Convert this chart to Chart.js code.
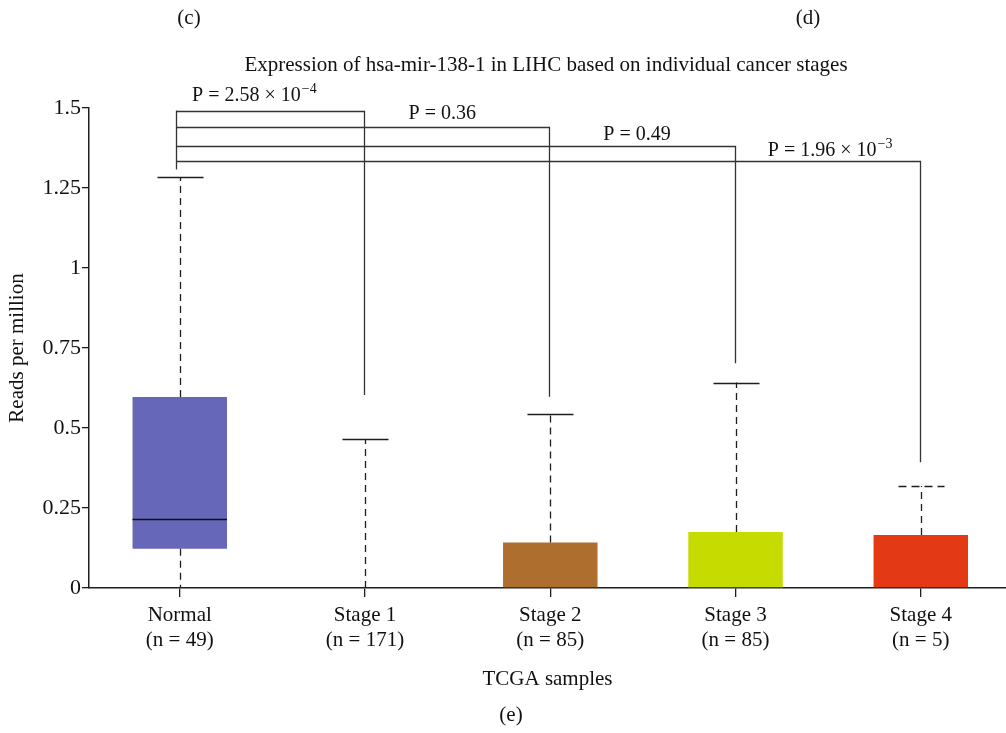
<!DOCTYPE html>
<html>
<head>
<meta charset="utf-8">
<title>Expression of hsa-mir-138-1 in LIHC</title>
<script src="https://cdn.jsdelivr.net/npm/chart.js@4.4.1/dist/chart.umd.min.js"></script>
<style>
  html, body { margin: 0; padding: 0; background: #ffffff; }
  #wrap { width: 1006px; height: 733px; }
</style>
</head>
<body>
<div id="wrap"><canvas id="chart" width="1006" height="733"></canvas></div>
<script>
// ---- data -------------------------------------------------------------
const categories   = ['Normal', 'Stage 1', 'Stage 2', 'Stage 3', 'Stage 4'];
const sampleCounts = ['(n = 49)', '(n = 171)', '(n = 85)', '(n = 85)', '(n = 5)'];

// box-and-whisker summary (reads per million)
const q1          = [0.123, 0, 0, 0, 0];
const median      = [0.215, 0, 0, 0, 0];
const q3          = [0.597, 0, 0.142, 0.175, 0.166];
const whiskerLow  = [0, 0, 0, 0, 0];
const whiskerHigh = [1.284, 0.466, 0.543, 0.642, 0.319];

// y axis ticks
const yTicks      = [0, 0.25, 0.5, 0.75, 1, 1.25, 1.5];
const yTickLabels = ['0', '0.25', '0.5', '0.75', '1', '1.25', '1.5'];

// significance brackets: Normal vs each stage
const pMantissa     = ['P = 2.58 × 10', 'P = 0.36', 'P = 0.49', 'P = 1.96 × 10'];
const pExponent     = ['−4', '', '', '−3'];
const bracketLevel  = [1.492, 1.440, 1.382, 1.333];
const bracketBottom = [0.603, 0.598, 0.702, 0.393];
const bracketStemLow = 1.308;

// ---- styles -----------------------------------------------------------
const FONT = "'Liberation Serif', 'Times New Roman', serif";
const TEXT_SIZE = 21;
const boxColors  = ['#6767b9', '#6767b9', '#ae6e2e', '#c6db00', '#e33914'];
const capDashed  = [false, false, false, false, true];
const INK = '#1e1e1e';
const CAP_HALF = 23;          // px, half width of whisker caps
const STEM_SHIFT = -0.022;    // x-units, bracket stem sits just left of Normal
const pLabelX   = [1.40, 2.417, 3.468, 4.508];
const pLabelGap = [10.5, 8.5, 6.5, 5.5];   // px, baseline above bracket line

const extras = {
  id: 'boxExtras',
  afterDatasetsDraw(chart) {
    const { ctx, scales: { x, y } } = chart;
    ctx.save();
    ctx.strokeStyle = INK;

    // whiskers + caps
    categories.forEach((c, i) => {
      const px = Math.round(x.getPixelForValue(i + 1)) + 0.5;
      ctx.lineWidth = 1.3;
      ctx.setLineDash([7, 5]);
      ctx.beginPath();
      ctx.moveTo(px, y.getPixelForValue(q3[i]));
      ctx.lineTo(px, y.getPixelForValue(whiskerHigh[i]));
      ctx.stroke();
      if (q1[i] > whiskerLow[i]) {
        ctx.beginPath();
        ctx.moveTo(px, y.getPixelForValue(q1[i]));
        ctx.lineTo(px, y.getPixelForValue(whiskerLow[i]));
        ctx.stroke();
      }
      ctx.setLineDash(capDashed[i] ? [8, 5] : []);
      ctx.lineWidth = 1.6;
      const cy = Math.round(y.getPixelForValue(whiskerHigh[i])) + 0.5;
      ctx.beginPath();
      ctx.moveTo(px - CAP_HALF, cy);
      ctx.lineTo(px + CAP_HALF, cy);
      ctx.stroke();
    });
    ctx.setLineDash([]);

    // medians
    const meta = chart.getDatasetMeta(0);
    categories.forEach((c, i) => {
      if (median[i] <= 0) return;
      const bar = meta.data[i];
      const my = Math.round(y.getPixelForValue(median[i])) + 0.5;
      ctx.lineWidth = 1.4;
      ctx.strokeStyle = '#111';
      ctx.beginPath();
      ctx.moveTo(bar.x - bar.width / 2, my);
      ctx.lineTo(bar.x + bar.width / 2, my);
      ctx.stroke();
    });

    // brackets
    ctx.strokeStyle = '#333';
    ctx.lineWidth = 1.3;
    const sx = Math.round(x.getPixelForValue(1 + STEM_SHIFT)) + 0.5;
    ctx.beginPath();
    ctx.moveTo(sx, y.getPixelForValue(bracketLevel[0]));
    ctx.lineTo(sx, y.getPixelForValue(bracketStemLow));
    ctx.stroke();
    bracketLevel.forEach((lv, k) => {
      const by = Math.round(y.getPixelForValue(lv)) + 0.5;
      const ex = Math.round(x.getPixelForValue(k + 2)) - 0.5;
      ctx.beginPath();
      ctx.moveTo(sx, by);
      ctx.lineTo(ex, by);
      ctx.lineTo(ex, y.getPixelForValue(bracketBottom[k]));
      ctx.stroke();

      // P value label
      const main = pMantissa[k];
      const sup = pExponent[k];
      ctx.font = '20px ' + FONT;
      const wMain = ctx.measureText(main).width;
      ctx.font = '14px ' + FONT;
      const wSup = sup ? ctx.measureText(sup).width : 0;
      const cx = x.getPixelForValue(pLabelX[k]);
      const left = cx - (wMain + wSup) / 2;
      const base = by - pLabelGap[k];
      ctx.fillStyle = '#111';
      ctx.textAlign = 'left';
      ctx.textBaseline = 'alphabetic';
      ctx.font = '20px ' + FONT;
      ctx.fillText(main, left, base);
      if (sup) {
        ctx.font = '14px ' + FONT;
        ctx.fillText(sup, left + wMain + 1, base - 8);
      }
    });
    ctx.restore();
  },
  afterDraw(chart) {
    const { ctx } = chart;
    ctx.save();
    ctx.fillStyle = '#111';
    ctx.textAlign = 'center';
    ctx.textBaseline = 'alphabetic';
    ctx.font = TEXT_SIZE + 'px ' + FONT;
    ctx.fillText('(c)', 189, 24);
    ctx.fillText('(d)', 808, 24);
    ctx.fillText('Expression of hsa-mir-138-1 in LIHC based on individual cancer stages', 546, 71);
    ctx.fillText('(e)', 511, 721);
    ctx.restore();
  }
};

new Chart(document.getElementById('chart'), {
  type: 'bar',
  data: {
    datasets: [{
      data: categories.map((c, i) => ({ x: i + 1, y: [q1[i], q3[i]] })),
      backgroundColor: boxColors,
      borderWidth: 0,
      barPercentage: 0.51,
      categoryPercentage: 1
    }]
  },
  options: {
    responsive: false,
    devicePixelRatio: 1,
    animation: false,
    layout: { padding: { top: 108, left: 0, right: 0, bottom: 0 } },
    plugins: {
      legend: { display: false },
      tooltip: { enabled: false },
      title: { display: false }
    },
    scales: {
      x: {
        type: 'linear',
        min: 0.51,
        max: 5.46,
        offset: false,
        afterBuildTicks: s => { s.ticks = categories.map((c, i) => ({ value: i + 1 })); },
        afterFit: s => { s.height = 145; },
        ticks: {
          autoSkip: false,
          maxRotation: 0,
          padding: 6,
          color: '#111',
          font: { family: FONT, size: TEXT_SIZE, lineHeight: 1.2 },
          callback: (v, i) => [categories[i], sampleCounts[i]]
        },
        grid: { display: true, offset: false, drawOnChartArea: false, drawTicks: true, tickLength: 9, color: INK, lineWidth: 1.3 },
        border: { display: true, color: INK, width: 1.5 },
        title: {
          display: true, text: 'TCGA samples', color: '#111',
          font: { family: FONT, size: TEXT_SIZE, lineHeight: 1.2 },
          padding: { top: 0, bottom: 41 }
        }
      },
      y: {
        min: 0,
        max: 1.5,
        afterBuildTicks: s => { s.ticks = yTicks.map(v => ({ value: v })); },
        afterFit: s => { s.width = 89; },
        ticks: {
          padding: 1,
          color: '#111',
          font: { family: FONT, size: 22 },
          callback: (v, i) => yTickLabels[i]
        },
        grid: { display: true, offset: false, drawOnChartArea: false, drawTicks: true, tickLength: 7, color: INK, lineWidth: 1.3 },
        border: { display: true, color: INK, width: 1.5 },
        title: {
          display: true, text: 'Reads per million', color: '#111',
          font: { family: FONT, size: TEXT_SIZE, lineHeight: 1.2 },
          padding: { top: 5, bottom: 0 }
        }
      }
    }
  },
  plugins: [extras]
});
</script>
</body>
</html>
